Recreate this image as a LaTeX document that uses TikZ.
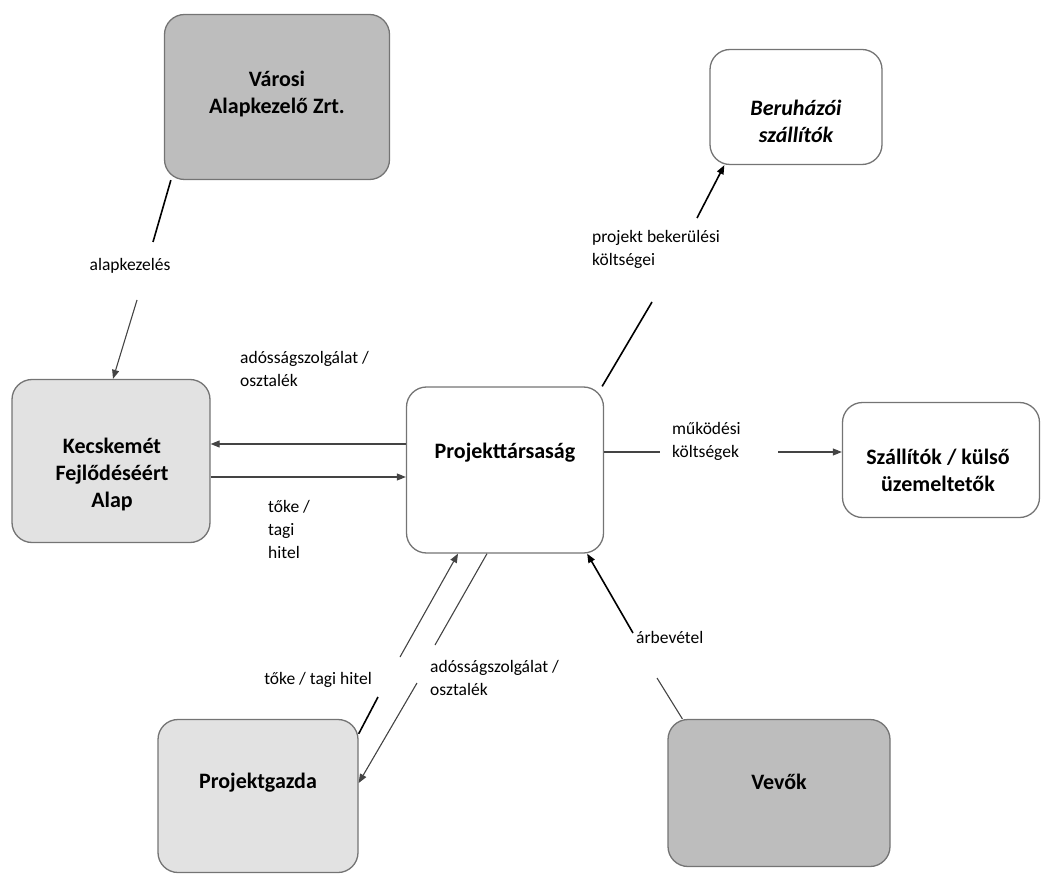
\documentclass[tikz,border=0pt]{standalone}
\usepackage{fontspec}
\setmainfont{Carlito}
\usepackage{tikz}
\usetikzlibrary{arrows.meta, positioning}

\definecolor{darkfill}{HTML}{BDBDBD}
\definecolor{lightfill}{HTML}{E2E2E2}
\definecolor{boxline}{HTML}{747474}
\definecolor{flowline}{HTML}{444444}

\tikzset{
  box/.style={draw=boxline, line width=1.3pt, rounded corners=20pt},
  boxtext/.style={align=center, inner sep=0pt, font=\fontsize{22}{27}\selectfont\bfseries},
  flow/.style={draw=flowline, line width=1.1pt},
  darkflow/.style={draw=black, line width=1.6pt},
  tip/.style={-{Triangle[length=9pt,width=7pt]}},
  lbl/.style={font=\fontsize{17.5}{23}\selectfont, align=left, inner sep=0pt}
}

\begin{document}
\begin{tikzpicture}[x=1pt, y=-1pt]
    \useasboundingbox (0,0) rectangle (1046,882);

    % boxes
    \node[box, fill=darkfill, minimum width=225, minimum height=165] (vaz) at (277,97) {};
    \node[box, fill=white, minimum width=172, minimum height=115] (ber) at (796,107) {};
    \node[box, fill=lightfill, minimum width=198, minimum height=163] (kfa) at (111,461) {};
    \node[box, fill=white, minimum width=197, minimum height=166] (pt) at (505,470) {};
    \node[box, fill=white, minimum width=197, minimum height=115] (szk) at (941,460) {};
    \node[box, fill=lightfill, minimum width=200, minimum height=153] (pg) at (258,796) {};
    \node[box, fill=darkfill, minimum width=222, minimum height=147] (vev) at (779,793) {};

    % box texts
    \node[boxtext] (vaz-t) at (277,94) {Városi\\Alapkezelő Zrt.};
    \node[boxtext] (ber-t) at (796,121) {\itshape Beruházói\\\itshape szállítók};
    \node[boxtext] (kfa-t) at (112,475) {Kecskemét\\Fejlődéséért\\Alap};
    \node[boxtext] (pt-t) at (505,453) {Projekttársaság};
    \node[boxtext] (szk-t) at (938,470) {Szállítók / külső\\üzemeltetők};
    \node[boxtext] (pg-t) at (258,783) {Projektgazda};
    \node[boxtext] (vev-t) at (779,782) {Vevők};

    % labels
    \node[lbl] (lapk) at (130,266) {alapkezelés};
    \node[lbl, anchor=north west] (adoss1) at (240,351) {adósságszolgálat /\\osztalék};
    \node[lbl, anchor=north west] (toke1) at (268,500) {tőke /\\tagi\\hitel};
    \node[lbl, anchor=west] (bekl) at (592,249) {projekt bekerülési\\költségei};
    \node[lbl, anchor=west] (mukk) at (672,441) {működési\\költségek};
    \node[lbl, anchor=east] (toke2) at (372,680) {tőke / tagi hitel};
    \node[lbl, anchor=west] (adoss2) at (430,678) {adósságszolgálat /\\osztalék};
    \node[lbl, anchor=west] (arbv) at (636,637) {árbevétel};

    % free ends of the broken connectors
    \coordinate (va1) at (153,242);
    \coordinate (va2) at (137,300);
    \coordinate (be1) at (652,302);
    \coordinate (be2) at (697,218);
    \coordinate (mu1) at (660,452);
    \coordinate (mu2) at (778,452);
    \coordinate (tg1) at (378,697);
    \coordinate (tg2) at (400,657);
    \coordinate (ad1) at (435,645);
    \coordinate (ad2) at (417,683);
    \coordinate (ar1) at (657,678);
    \coordinate (ar2) at (633,633);

    % connectors
    \draw[darkflow] ([xshift=7pt]vaz.south west) -- (va1);
    \draw[flow, tip] (va2) -- ([xshift=2pt]kfa.north);

    \draw[flow, tip] ([yshift=26pt]pt.west) -- ([yshift=26pt]pt.west -| kfa.east);
    \draw[flow, tip] ([yshift=-7pt]pt.west -| kfa.east) -- ([yshift=-7pt]pt.west);

    \draw[darkflow] ([xshift=-2pt]pt.north east) -- (be1);
    \draw[darkflow, tip] (be2) -- ([xshift=15pt]ber.south west);

    \draw[flow] ([yshift=18pt]pt.east) -- (mu1);
    \draw[flow, tip] (mu2) -- (mu2 -| szk.west);

    \draw[darkflow] ([yshift=-15pt]pg.north east) -- (tg1);
    \draw[flow, tip] (tg2) -- ([xshift=-47pt]pt.south);

    \draw[flow] ([xshift=-18pt]pt.south) -- (ad1);
    \draw[flow, tip] (ad2) -- ([yshift=13pt]pg.east);

    \draw[flow] ([xshift=15pt]vev.north west) -- (ar1);
    \draw[darkflow, tip] (ar2) -- ([xshift=-17pt]pt.south east);
\end{tikzpicture}
\end{document}
